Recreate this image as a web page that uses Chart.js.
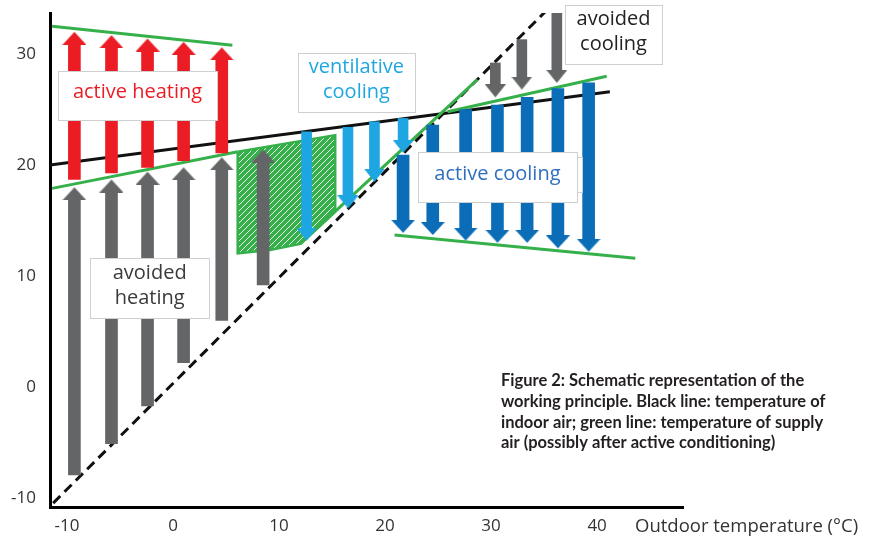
<!DOCTYPE html>
<html>
<head>
<meta charset="utf-8">
<script src="https://cdn.jsdelivr.net/npm/chart.js@4.4.0/dist/chart.umd.min.js"></script>
<style>
  html, body { margin: 0; padding: 0; background: #fff; }
</style>
</head>
<body>
<canvas id="grafico" width="870" height="537"></canvas>
<script>
// --- dados (x = temperatura externa, y = temperatura) ---
const xTicks = [-10, 0, 10, 20, 30, 40];
const yTicks = [-10, 0, 10, 20, 30];

// aquecimento ativo (setas vermelhas, para cima)
const heatX = [-9.3, -5.8, -2.4, 1.0, 4.6];
const heatFrom = [18.7, 19.3, 19.8, 20.4, 21.1];
const heatTo = [32.0, 31.7, 31.4, 31.1, 30.6];

// aquecimento evitado (setas cinza, para cima)
const avoidHeatX = [-9.3, -5.8, -2.4, 1.0, 4.6, 8.5];
const avoidHeatFrom = [-7.9, -5.1, -1.7, 2.2, 6.0, 9.2];
const avoidHeatTo = [18.0, 18.7, 19.4, 19.8, 20.7, 21.4];

// resfriamento por ventilação (setas azul claro, para baixo)
const ventX = [12.6, 16.5, 19.0, 21.7];
const ventFrom = [23.0, 23.4, 23.9, 24.2];
const ventTo = [13.2, 16.1, 18.5, 21.1];

// resfriamento ativo (setas azul escuro, para baixo)
const coolX = [21.7, 24.5, 27.6, 30.6, 33.4, 36.3, 39.2];
const coolFrom = [20.9, 23.6, 25.0, 25.4, 26.1, 26.9, 27.4];
const coolTo = [13.9, 13.7, 13.2, 13.0, 13.0, 12.5, 12.2];

// resfriamento evitado (setas cinza, para baixo)
const avoidCoolX = [30.4, 32.9, 36.2];
const avoidCoolFrom = [29.2, 31.3, 33.7];
const avoidCoolTo = [26.1, 26.8, 27.4];

// linhas
const outdoorLine = [[-11.3, -10.45], [35.3, 34.0]];
const indoorLine = [[-11.6, 20.0], [41.2, 26.6]];
const supplyHeatTop = [[-11.4, 32.5], [5.6, 30.8]];
const supplyHeatLow = [[-11.4, 17.9], [6.1, 21.2]];
const supplyDiag = [[12.0, 12.9], [28.7, 27.7]];
const supplyCoolTop = [[25.9, 24.8], [40.9, 28.0]];
const supplyCoolLow = [[20.9, 13.7], [43.6, 11.6]];

// área hachurada
const hatchArea = [
  [6.1, 21.2], [15.3, 22.7], [15.3, 15.8], [12.0, 12.9],
  [9.15, 12.35], [6.1, 12.05], [6.1, 21.2],
];

// --- estilos ---
const VERMELHO = "#ec1c24";
const CINZA = "#636566";
const CIANO = "#1ea6e2";
const AZUL = "#0b6db8";
const VERDE = "#35b04a";
const HEAD = 1.15; // altura da ponta da seta (unidades do eixo y)

function ponta(cor, largura, altura, paraCima) {
  const c = document.createElement("canvas");
  c.width = largura;
  c.height = altura * 2;
  const g = c.getContext("2d");
  g.fillStyle = cor;
  g.beginPath();
  g.moveTo(largura / 2, altura);
  if (paraCima) {
    g.lineTo(largura, altura * 2);
    g.lineTo(0, altura * 2);
  } else {
    g.lineTo(largura, 0);
    g.lineTo(0, 0);
  }
  g.closePath();
  g.fill();
  return c;
}

function hachura() {
  const c = document.createElement("canvas");
  c.width = 6;
  c.height = 6;
  const g = c.getContext("2d");
  g.fillStyle = VERDE;
  g.fillRect(0, 0, 6, 6);
  g.strokeStyle = "rgba(255,255,255,0.9)";
  g.lineWidth = 1;
  g.beginPath();
  g.moveTo(-1, 7); g.lineTo(7, -1);
  g.moveTo(-1, 1); g.lineTo(1, -1);
  g.moveTo(5, 7); g.lineTo(7, 5);
  g.stroke();
  return g.createPattern(c, "repeat");
}

function hastes(xs, de, ate, cor, largura) {
  return {
    type: "bar",
    data: xs.map((x, i) => ({
      x: x,
      y: ate[i] > de[i] ? [de[i], ate[i] - HEAD] : [ate[i] + HEAD, de[i]],
    })),
    backgroundColor: cor,
    barThickness: largura,
    grouped: false,
    borderWidth: 0,
  };
}

function pontas(xs, ate, img) {
  return {
    type: "line",
    data: xs.map((x, i) => ({ x: x, y: ate[i] })),
    showLine: false,
    pointStyle: img,
    pointRadius: 10,
  };
}

function linha(pts, cor, largura, dash) {
  return {
    type: "line",
    data: pts.map((p) => ({ x: p[0], y: p[1] })),
    borderColor: cor,
    borderWidth: largura,
    borderDash: dash || [],
    pointRadius: 0,
    fill: false,
    tension: 0,
  };
}

// caixas de texto (centro em coordenadas do gráfico, tamanho em px)
const caixas = [
  { x: -3.35, y: 26.3, w: 159, h: 49, cor: VERMELHO, linhas: ["active heating"] },
  { x: -2.2, y: 8.9, w: 119, h: 60, cor: "#3a3a3a", linhas: ["avoided", "heating"] },
  { x: 17.3, y: 27.45, w: 117, h: 59, cor: CIANO, linhas: ["ventilative", "cooling"] },
  { x: 30.6, y: 18.9, w: 159, h: 50, cor: "#2f6fbf", linhas: ["active cooling"], sombra: true },
  { x: 41.55, y: 31.75, w: 97, h: 59, cor: "#222", linhas: ["avoided", "cooling"] },
];

const legenda = [
  "Figure 2: Schematic representation of the",
  "working principle. Black line: temperature of",
  "indoor air; green line: temperature of supply",
  "air (possibly after active conditioning)",
];

const textos = {
  id: "textos",
  afterDatasetsDraw(chart) {
    const { ctx } = chart;
    const sx = chart.scales.x;
    const sy = chart.scales.y;
    ctx.save();
    caixas.forEach((c) => {
      const cx = sx.getPixelForValue(c.x);
      const cy = sy.getPixelForValue(c.y);
      const l = Math.round(cx - c.w / 2) + 0.5;
      const t = Math.round(cy - c.h / 2) + 0.5;
      ctx.strokeStyle = "#cfcfcf";
      ctx.lineWidth = 1;
      if (c.sombra) {
        // pequena borda extra à direita, como na figura
        ctx.fillStyle = "#fff";
        ctx.fillRect(l + c.w - 10, t + 5, 15, c.h - 15);
        ctx.strokeRect(l + c.w - 10, t + 5, 15, c.h - 15);
      }
      ctx.fillStyle = "#fff";
      ctx.fillRect(l, t, c.w, c.h);
      ctx.strokeRect(l, t, c.w, c.h);
      ctx.fillStyle = c.cor;
      ctx.font = "20px 'Open Sans'";
      ctx.textAlign = "center";
      ctx.textBaseline = "middle";
      const n = c.linhas.length;
      c.linhas.forEach((txt, i) => {
        ctx.fillText(txt, cx, cy - 3 + (i - (n - 1) / 2) * 25);
      });
    });
    ctx.restore();
  },
  afterDraw(chart) {
    const { ctx } = chart;
    ctx.save();
    ctx.fillStyle = "#333";
    ctx.font = "18.5px 'Open Sans'";
    ctx.textAlign = "left";
    ctx.textBaseline = "middle";
    ctx.fillText("Outdoor temperature (\u00b0C)", 635, 527);

    ctx.fillStyle = "#231f20";
    ctx.font = "bold 16.5px Lato";
    legenda.forEach((txt, i) => {
      ctx.fillText(txt, 501, 381 + i * 20.6);
    });
    ctx.restore();
  },
};

const cfg = {
  type: "bar",
  data: {
    datasets: [
      pontas(heatX, heatTo, ponta(VERMELHO, 24, 13, true)),
      pontas(avoidHeatX, avoidHeatTo, ponta(CINZA, 24, 13, true)),
      pontas(ventX, ventTo, ponta(CIANO, 21, 13, false)),
      pontas(coolX, coolTo, ponta(AZUL, 24, 13, false)),
      pontas(avoidCoolX, avoidCoolTo, ponta(CINZA, 21, 13, false)),
      hastes(heatX, heatFrom, heatTo, VERMELHO, 12),
      hastes(avoidHeatX, avoidHeatFrom, avoidHeatTo, CINZA, 12),
      hastes(ventX, ventFrom, ventTo, CIANO, 10),
      hastes(coolX, coolFrom, coolTo, AZUL, 12),
      hastes(avoidCoolX, avoidCoolFrom, avoidCoolTo, CINZA, 10),
      linha(supplyHeatTop, VERDE, 3),
      linha(supplyHeatLow, VERDE, 3),
      linha(supplyDiag, VERDE, 3),
      linha(supplyCoolTop, VERDE, 3),
      linha(supplyCoolLow, VERDE, 3),
      linha(indoorLine, "#111", 3),
      linha(outdoorLine, "#111", 3, [10, 6]),
      {
        type: "line",
        data: hatchArea.map((p) => ({ x: p[0], y: p[1] })),
        borderColor: VERDE,
        borderWidth: 2.5,
        backgroundColor: hachura(),
        fill: "shape",
        pointRadius: 0,
        tension: 0,
      },
    ],
  },
  options: {
    responsive: false,
    animation: false,
    events: [],
    layout: { padding: { top: 13, right: 187, bottom: 0, left: 0 } },
    plugins: {
      legend: { display: false },
      tooltip: { enabled: false },
    },
    scales: {
      x: {
        type: "linear",
        min: -11.6,
        max: 48.1,
        offset: false,
        grid: { display: false, drawTicks: false },
        border: { color: "#000", width: 3 },
        ticks: {
          color: "#333",
          font: { family: "Open Sans", size: 17 },
          padding: 9,
          maxRotation: 0,
        },
        afterBuildTicks: (s) => {
          s.ticks = xTicks.map((v) => ({ value: v }));
        },
        afterFit: (s) => {
          s.height = 30;
          s.paddingLeft = 0;
          s.paddingRight = 0;
        },
      },
      y: {
        type: "linear",
        min: -10.8,
        max: 33.7,
        grid: { display: false, drawTicks: false },
        border: { color: "#000", width: 3 },
        ticks: {
          color: "#333",
          font: { family: "Open Sans", size: 17 },
          padding: 14,
        },
        afterBuildTicks: (s) => {
          s.ticks = yTicks.map((v) => ({ value: v }));
        },
        afterFit: (s) => {
          s.width = 50;
          s.paddingTop = 0;
          s.paddingBottom = 0;
        },
      },
    },
  },
  plugins: [textos],
};

new Chart(document.getElementById("grafico"), cfg);
</script>
</body>
</html>
